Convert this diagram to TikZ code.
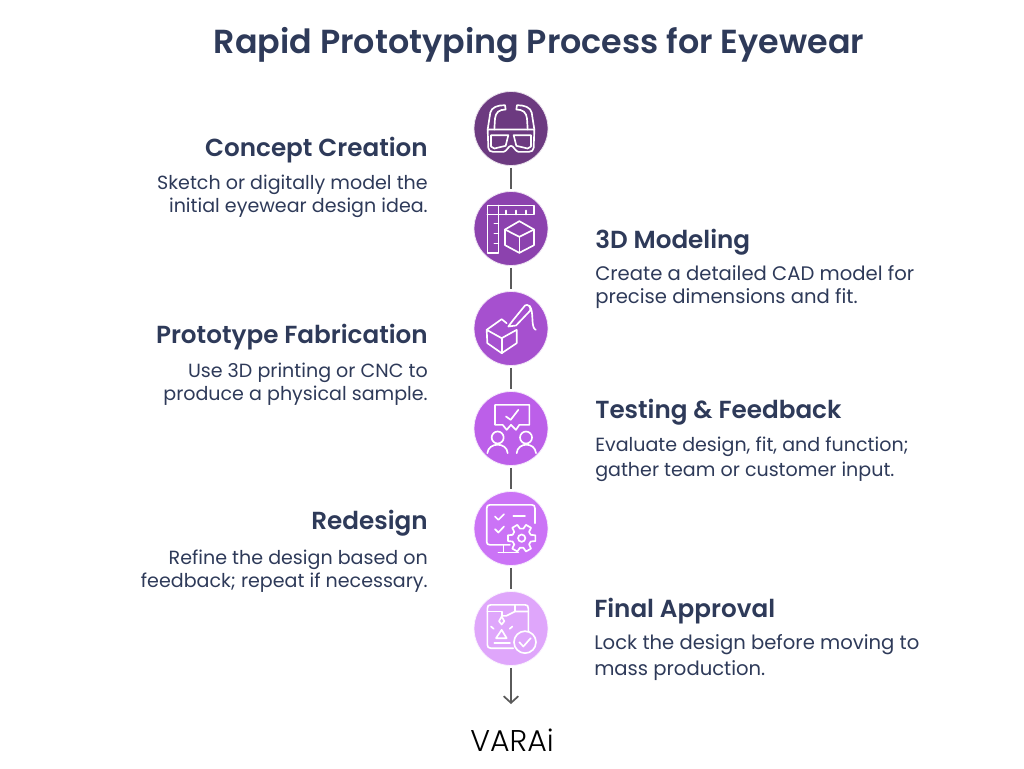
\documentclass[tikz,border=0pt]{standalone}
\usepackage{fontspec}
\setmainfont{Poppins}[BoldFont=Poppins SemiBold]
\newfontfamily\brandfont{Poppins Light}
\usetikzlibrary{arrows.meta}
\definecolor{inktext}{HTML}{2E3A59}
\definecolor{wire}{HTML}{5A5A5A}
\definecolor{stepa}{HTML}{6C3A80}
\definecolor{stepb}{HTML}{8C42AE}
\definecolor{stepc}{HTML}{A650CF}
\definecolor{stepd}{HTML}{BC5FE9}
\definecolor{stepe}{HTML}{CB73F6}
\definecolor{stepf}{HTML}{DFA6FB}
\tikzset{
  bubble/.style={circle,draw=white!85!#1,fill=#1,line width=.6pt,minimum size=55.5pt,inner sep=0pt},
  heading/.style={text=inktext,inner sep=0pt,font=\bfseries\fontsize{18.5pt}{22pt}\selectfont},
  blurb/.style={text=inktext,inner sep=0pt,font=\fontsize{14.3pt}{17.2pt}\selectfont},
  wideblurb/.style={text=inktext,inner sep=0pt,font=\fontsize{14.7pt}{17.2pt}\selectfont},
  link/.style={draw=wire,line width=1.3pt,shorten >=1.5pt,shorten <=1.5pt},
  glyph/.style={draw=white,line width=1.25pt,line join=round,line cap=round}
}
\begin{document}
\begin{tikzpicture}[x=.75pt,y=-.75pt]
  \useasboundingbox (0,0) rectangle (1024,768);
  \node[text=inktext,inner sep=0pt,font=\bfseries\fontsize{25pt}{30pt}\selectfont] (title) at (539,44.5) {Rapid Prototyping Process for Eyewear};

  \node[bubble=stepa] (concept) at (511,128.5) {};
  \node[bubble=stepb] (model) at (511,228.5) {};
  \node[bubble=stepc] (proto) at (511,328.5) {};
  \node[bubble=stepd] (test) at (511,428.5) {};
  \node[bubble=stepe] (redo) at (511,528.5) {};
  \node[bubble=stepf] (final) at (511,628.5) {};
  \coordinate (tail) at (511,704);

  \draw[link] (concept) -- (model);
  \draw[link] (model) -- (proto);
  \draw[link] (proto) -- (test);
  \draw[link] (test) -- (redo);
  \draw[link] (redo) -- (final);
  \draw[link,shorten >=0pt,-{Straight Barb[length=5pt,width=11pt,line width=1.3pt]}] (final) -- (tail);

  % glasses
  \begin{scope}[shift={(concept.center)},x=.25pt,y=-.25pt,glyph]
    \draw (-70,3) -- (70,3) -- (68,58) .. controls (67,66) and (62,70) .. (54,70) -- (22,70) .. controls (12,68) and (8,52) .. (0,52) .. controls (-8,52) and (-12,68) .. (-22,70) -- (-54,70) .. controls (-62,70) and (-67,66) .. (-68,58) -- cycle;
    \draw (-60,20) -- (-8,20) -- (-16,52) -- (-50,60) -- (-60,54) -- cycle;
    \draw (60,20) -- (8,20) -- (16,52) -- (50,60) -- (60,54) -- cycle;
    \draw (-70,3) -- (-62,-48) .. controls (-58,-64) and (-40,-70) .. (-18,-70) -- (-16,-57) .. controls (-36,-57) and (-46,-48) .. (-48,-30) -- (-50,3);
    \draw (70,3) -- (62,-48) .. controls (58,-64) and (40,-70) .. (18,-70) -- (16,-57) .. controls (36,-57) and (46,-48) .. (48,-30) -- (50,3);
  \end{scope}

  % ruler and cube
  \begin{scope}[shift={(model.center)},x=.25pt,y=-.25pt,glyph]
    \draw (-71,-69) -- (69,-69) -- (69,-42) -- (-38,-42) -- (-38,73) -- (-71,73) -- cycle;
    \draw (-71,-42) -- (-38,-42) -- (-38,-69);
    \foreach \t in {-15,15,45} \draw (\t,-42) -- (\t,-54);
    \foreach \t in {-15,15,45} \draw (-38,\t) -- (-50,\t);
    \draw (-18,3) -- (25,-22) -- (69,3) -- (69,50) -- (25,73) -- (-18,50) -- cycle;
    \draw (-18,3) -- (25,25) -- (69,3);
    \draw (25,25) -- (25,73);
  \end{scope}

  % printed cube and pen
  \begin{scope}[shift={(proto.center)},x=.25pt,y=-.25pt,glyph]
    \draw (-13,-16) -- (-28,-28) -- (-73,4) -- (-71,44) -- (-28,74) -- (17,44) -- (17,4) -- (-28,29) -- (-73,4);
    \draw (-28,29) -- (-28,74);
    \draw (-8,-6) -- (7,-26) -- (42,-69) .. controls (50,-75) and (60,-66) .. (58,-54) -- (15,-9) -- cycle;
    \draw (56,-68) .. controls (70,-50) and (58,-4) .. (74,4);
  \end{scope}

  % feedback
  \begin{scope}[shift={(test.center)},x=.25pt,y=-.25pt,glyph]
    \draw (-48,-71) -- (55,-71) -- (55,-11) -- (25,-11) -- (15,4) -- (0,-11) -- (-13,4) -- (-25,-11) -- (-48,-11) -- cycle;
    \draw (-15,-36) -- (-1,-26) -- (22,-56);
    \draw (-40,27) circle (18);
    \draw (45,27) circle (18);
    \draw (-71,74) .. controls (-68,40) and (-12,40) .. (-10,74);
    \draw (17,74) .. controls (20,40) and (72,40) .. (75,74);
  \end{scope}

  % monitor and gear
  \begin{scope}[shift={(redo.center)},x=.25pt,y=-.25pt,glyph]
    \draw (-3,49) -- (-63,49) .. controls (-70,49) and (-73,46) .. (-73,40) -- (-73,-60) .. controls (-73,-68) and (-70,-71) .. (-63,-71) -- (62,-71) .. controls (69,-71) and (72,-68) .. (72,-60) -- (72,-16);
    \draw (-23,49) -- (-23,72);
    \draw (-38,72) -- (22,72);
    \draw (-48,-36) -- (-38,-26) -- (-21,-43);
    \draw (-48,2) -- (-38,12) -- (-21,-6);
    \draw (7,-38) -- (42,-38);
    \begin{scope}[shift={(32,29)}]
      \draw (-12:42) \foreach \a in {0,60,...,300} { -- (\a-12:42) -- (\a+12:42) -- (\a+20:29) -- (\a+40:29) } -- cycle;
      \draw (0,0) circle (11);
    \end{scope}
  \end{scope}

  % print bed with check mark
  \begin{scope}[shift={(final.center)},x=.25pt,y=-.25pt,glyph]
    \draw (7,59) -- (-61,59) .. controls (-68,59) and (-71,55) .. (-71,49) -- (-71,-60) .. controls (-71,-68) and (-68,-71) .. (-60,-71) -- (42,-71) .. controls (49,-71) and (52,-68) .. (52,-60) -- (52,9);
    \draw (-71,-51) -- (-28,-51) -- (-28,-38);
    \draw (-28,-38) -- (-14,-38) -- (12,-51) -- (52,-51);
    \draw (12,-51) -- (12,-71);
    \draw (-28,-36) -- (-20,-22) -- (-28,-12) -- (-36,-22) -- cycle;
    \draw (-28,4) -- (-45,29) -- (-13,29) -- cycle;
    \draw (-50,44) -- (-3,44);
    \draw (-52,1) -- (-60,-6);
    \draw (-4,1) -- (4,-6);
    \draw (42,41) circle (33);
    \draw (25,41) -- (37,54) -- (59,29);
  \end{scope}

  \node[anchor=east,heading] (concepthead) at (428,150.5) {Concept Creation};
  \node[anchor=north east,blurb,align=right] (conceptblurb) at (428,175) {Sketch or digitally model the\\initial eyewear design idea.};
  \node[anchor=west,heading] (modelhead) at (595,242.5) {3D Modeling};
  \node[anchor=north west,wideblurb,align=left] (modelblurb) at (595,265) {Create a detailed CAD model for\\precise dimensions and fit.};
  \node[anchor=east,heading] (protohead) at (428,337.5) {Prototype Fabrication};
  \node[anchor=north east,blurb,align=right] (protoblurb) at (428,362.5) {Use 3D printing or CNC to\\produce a physical sample.};
  \node[anchor=west,heading] (testhead) at (595,412.5) {Testing \& Feedback};
  \node[anchor=north west,blurb,align=left] (testblurb) at (595,437) {Evaluate design, fit, and function;\\[1.5pt]gather team or customer input.};
  \node[anchor=east,heading] (redohead) at (428,523.5) {Redesign};
  \node[anchor=north east,blurb,align=right] (redoblurb) at (428,549.5) {Refine the design based on\\feedback; repeat if necessary.};
  \node[anchor=west,heading] (finalhead) at (594,611.5) {Final Approval};
  \node[anchor=north west,wideblurb,align=left] (finalblurb) at (594,634.5) {Lock the design before moving to\\[2pt]mass production.};

  \node[text=black,inner sep=0pt,font=\brandfont\fontsize{22.5pt}{28pt}\selectfont] (brand) at (512,740) {VARAi};
\end{tikzpicture}
\end{document}
